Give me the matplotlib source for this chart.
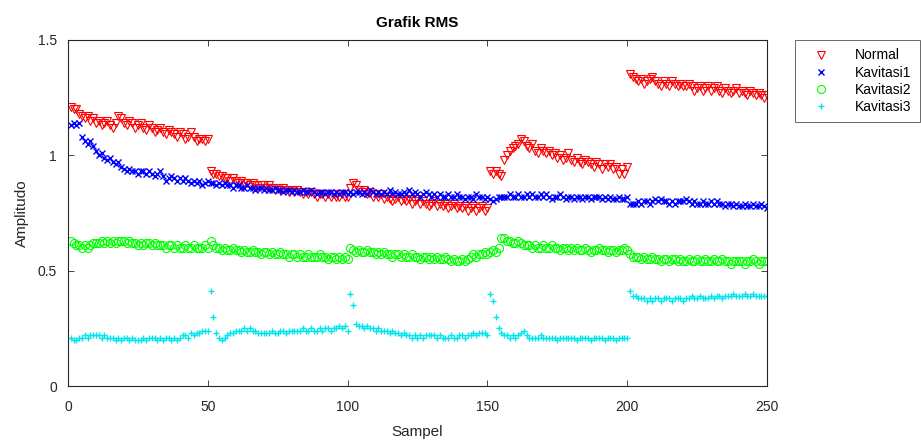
import numpy as np
import matplotlib
matplotlib.use("Agg")
import matplotlib.pyplot as plt
from matplotlib.ticker import FuncFormatter

plt.rcParams["font.family"] = ["Liberation Sans", "DejaVu Sans"]

# RMS values per sample
normal = [
    1.21, 1.20, 1.20, 1.18, 1.17, 1.16, 1.17, 1.15, 1.16, 1.14,
    1.15, 1.13, 1.14, 1.15, 1.13, 1.12, 1.14, 1.17, 1.16, 1.14,
    1.13, 1.15, 1.14, 1.12, 1.13, 1.14, 1.12, 1.11, 1.13, 1.12,
    1.10, 1.11, 1.12, 1.10, 1.09, 1.11, 1.10, 1.09, 1.08, 1.10,
    1.09, 1.07, 1.08, 1.10, 1.08, 1.06, 1.07, 1.07, 1.06, 1.07,
    0.93, 0.92, 0.92, 0.91, 0.91, 0.90, 0.90, 0.89, 0.90, 0.89,
    0.88, 0.89, 0.88, 0.88, 0.87, 0.88, 0.87, 0.86, 0.87, 0.87,
    0.86, 0.87, 0.86, 0.85, 0.86, 0.85, 0.86, 0.85, 0.84, 0.85,
    0.84, 0.85, 0.84, 0.83, 0.84, 0.83, 0.84, 0.83, 0.82, 0.83,
    0.83, 0.82, 0.83, 0.82, 0.83, 0.82, 0.82, 0.83, 0.82, 0.82,
    0.86, 0.88, 0.87, 0.85, 0.84, 0.85, 0.83, 0.84, 0.82, 0.83,
    0.82, 0.83, 0.81, 0.82, 0.81, 0.80, 0.81, 0.82, 0.80, 0.81,
    0.80, 0.81, 0.79, 0.80, 0.81, 0.79, 0.80, 0.79, 0.78, 0.79,
    0.80, 0.78, 0.79, 0.78, 0.79, 0.77, 0.78, 0.79, 0.77, 0.78,
    0.77, 0.78, 0.76, 0.77, 0.78, 0.76, 0.77, 0.78, 0.76, 0.77,
    0.93, 0.92, 0.93, 0.92, 0.91, 0.98, 1.00, 1.02, 1.03, 1.04,
    1.05, 1.07, 1.06, 1.04, 1.03, 1.05, 1.02, 1.01, 1.03, 1.02,
    1.01, 1.02, 1.00, 1.01, 0.99, 1.00, 0.98, 0.99, 1.01, 0.98,
    0.97, 0.99, 0.97, 0.96, 0.98, 0.97, 0.96, 0.95, 0.97, 0.96,
    0.94, 0.96, 0.95, 0.96, 0.94, 0.95, 0.92, 0.94, 0.92, 0.95,
    1.35, 1.34, 1.33, 1.32, 1.33, 1.31, 1.32, 1.33, 1.34, 1.32,
    1.31, 1.30, 1.32, 1.31, 1.30, 1.32, 1.31, 1.30, 1.31, 1.30,
    1.30, 1.31, 1.30, 1.28, 1.29, 1.30, 1.28, 1.29, 1.30, 1.28,
    1.29, 1.30, 1.28, 1.27, 1.29, 1.28, 1.27, 1.28, 1.29, 1.27,
    1.28, 1.27, 1.26, 1.28, 1.27, 1.26, 1.27, 1.26, 1.25, 1.26,
]

kavitasi1 = [
    1.13, 1.14, 1.13, 1.14, 1.08, 1.06, 1.05, 1.06, 1.04, 1.02,
    1.00, 1.01, 0.99, 0.98, 0.99, 0.97, 0.96, 0.97, 0.95, 0.94,
    0.93, 0.94, 0.93, 0.93, 0.92, 0.93, 0.93, 0.92, 0.93, 0.92,
    0.91, 0.92, 0.93, 0.91, 0.89, 0.90, 0.91, 0.90, 0.89, 0.90,
    0.89, 0.90, 0.89, 0.88, 0.89, 0.88, 0.89, 0.87, 0.88, 0.89,
    0.88, 0.88, 0.87, 0.88, 0.87, 0.88, 0.87, 0.87, 0.86, 0.87,
    0.87, 0.86, 0.86, 0.87, 0.86, 0.86, 0.85, 0.86, 0.86, 0.85,
    0.86, 0.85, 0.85, 0.86, 0.85, 0.85, 0.84, 0.85, 0.85, 0.84,
    0.85, 0.84, 0.84, 0.85, 0.84, 0.84, 0.85, 0.84, 0.83, 0.84,
    0.84, 0.83, 0.84, 0.84, 0.83, 0.84, 0.83, 0.84, 0.84, 0.83,
    0.84, 0.83, 0.84, 0.84, 0.83, 0.84, 0.83, 0.85, 0.84, 0.83,
    0.84, 0.83, 0.84, 0.83, 0.85, 0.83, 0.84, 0.83, 0.83, 0.84,
    0.83, 0.85, 0.83, 0.84, 0.83, 0.82, 0.83, 0.84, 0.83, 0.82,
    0.83, 0.82, 0.83, 0.82, 0.82, 0.83, 0.82, 0.82, 0.83, 0.82,
    0.82, 0.81, 0.82, 0.82, 0.81, 0.83, 0.82, 0.82, 0.81, 0.82,
    0.81, 0.80, 0.81, 0.82, 0.82, 0.82, 0.82, 0.83, 0.82, 0.82,
    0.83, 0.82, 0.82, 0.83, 0.82, 0.83, 0.82, 0.82, 0.83, 0.82,
    0.83, 0.82, 0.81, 0.82, 0.82, 0.83, 0.82, 0.81, 0.82, 0.82,
    0.81, 0.82, 0.82, 0.81, 0.82, 0.82, 0.81, 0.82, 0.82, 0.82,
    0.81, 0.82, 0.81, 0.82, 0.81, 0.81, 0.82, 0.81, 0.81, 0.82,
    0.79, 0.79, 0.79, 0.80, 0.79, 0.80, 0.80, 0.79, 0.80, 0.81,
    0.80, 0.81, 0.80, 0.80, 0.79, 0.80, 0.79, 0.80, 0.80, 0.80,
    0.81, 0.80, 0.79, 0.80, 0.79, 0.79, 0.80, 0.79, 0.79, 0.80,
    0.79, 0.80, 0.79, 0.79, 0.78, 0.79, 0.79, 0.78, 0.79, 0.78,
    0.78, 0.79, 0.78, 0.78, 0.79, 0.78, 0.78, 0.79, 0.78, 0.77,
]

kavitasi2 = [
    0.63, 0.62, 0.61, 0.61, 0.60, 0.61, 0.60, 0.61, 0.62, 0.62,
    0.62, 0.63, 0.62, 0.63, 0.62, 0.63, 0.62, 0.63, 0.63, 0.63,
    0.62, 0.63, 0.62, 0.62, 0.61, 0.62, 0.61, 0.62, 0.62, 0.61,
    0.62, 0.61, 0.61, 0.61, 0.60, 0.61, 0.61, 0.60, 0.61, 0.60,
    0.60, 0.61, 0.60, 0.60, 0.61, 0.60, 0.60, 0.60, 0.61, 0.60,
    0.63, 0.61, 0.60, 0.60, 0.59, 0.60, 0.59, 0.59, 0.60, 0.59,
    0.59, 0.58, 0.59, 0.58, 0.58, 0.59, 0.58, 0.58, 0.57, 0.58,
    0.58, 0.57, 0.58, 0.57, 0.57, 0.58, 0.57, 0.57, 0.56, 0.57,
    0.57, 0.56, 0.57, 0.56, 0.56, 0.57, 0.56, 0.56, 0.56, 0.57,
    0.56, 0.56, 0.55, 0.56, 0.56, 0.55, 0.56, 0.55, 0.56, 0.55,
    0.60, 0.59, 0.58, 0.59, 0.58, 0.58, 0.59, 0.58, 0.58, 0.57,
    0.58, 0.57, 0.58, 0.57, 0.57, 0.56, 0.57, 0.57, 0.56, 0.57,
    0.56, 0.56, 0.57, 0.56, 0.56, 0.55, 0.56, 0.56, 0.55, 0.56,
    0.55, 0.56, 0.55, 0.55, 0.56, 0.55, 0.54, 0.55, 0.54, 0.54,
    0.55, 0.54, 0.55, 0.56, 0.57, 0.56, 0.57, 0.57, 0.58, 0.57,
    0.58, 0.59, 0.58, 0.60, 0.64, 0.64, 0.63, 0.63, 0.62, 0.62,
    0.63, 0.62, 0.61, 0.61, 0.61, 0.60, 0.61, 0.60, 0.60, 0.61,
    0.60, 0.60, 0.61, 0.60, 0.60, 0.59, 0.60, 0.60, 0.59, 0.60,
    0.59, 0.60, 0.59, 0.59, 0.60, 0.59, 0.58, 0.59, 0.59, 0.60,
    0.59, 0.59, 0.58, 0.59, 0.59, 0.58, 0.59, 0.59, 0.60, 0.59,
    0.57, 0.56, 0.56, 0.56, 0.55, 0.56, 0.55, 0.55, 0.56, 0.55,
    0.55, 0.54, 0.55, 0.55, 0.54, 0.55, 0.55, 0.54, 0.55, 0.54,
    0.54, 0.55, 0.54, 0.54, 0.55, 0.54, 0.54, 0.55, 0.54, 0.54,
    0.55, 0.54, 0.54, 0.55, 0.54, 0.54, 0.53, 0.54, 0.54, 0.54,
    0.54, 0.53, 0.54, 0.54, 0.55, 0.54, 0.53, 0.54, 0.54, 0.54,
]

kavitasi3 = [
    0.21, 0.20, 0.20, 0.21, 0.21, 0.22, 0.21, 0.22, 0.22, 0.22,
    0.22, 0.21, 0.22, 0.21, 0.21, 0.21, 0.20, 0.21, 0.20, 0.21,
    0.21, 0.20, 0.21, 0.20, 0.20, 0.20, 0.21, 0.20, 0.21, 0.21,
    0.21, 0.20, 0.21, 0.20, 0.21, 0.21, 0.20, 0.21, 0.20, 0.21,
    0.22, 0.22, 0.21, 0.23, 0.22, 0.23, 0.23, 0.24, 0.24, 0.24,
    0.41, 0.30, 0.23, 0.21, 0.20, 0.21, 0.22, 0.23, 0.23, 0.24,
    0.24, 0.24, 0.25, 0.24, 0.25, 0.24, 0.24, 0.23, 0.23, 0.23,
    0.23, 0.23, 0.24, 0.23, 0.23, 0.24, 0.24, 0.23, 0.24, 0.24,
    0.24, 0.24, 0.24, 0.25, 0.24, 0.24, 0.25, 0.24, 0.24, 0.25,
    0.24, 0.25, 0.25, 0.24, 0.25, 0.25, 0.26, 0.25, 0.26, 0.24,
    0.40, 0.35, 0.27, 0.26, 0.26, 0.25, 0.26, 0.25, 0.25, 0.24,
    0.25, 0.24, 0.24, 0.24, 0.23, 0.24, 0.23, 0.23, 0.22, 0.23,
    0.22, 0.22, 0.21, 0.22, 0.21, 0.22, 0.21, 0.22, 0.22, 0.22,
    0.22, 0.21, 0.22, 0.21, 0.21, 0.21, 0.22, 0.21, 0.21, 0.22,
    0.22, 0.21, 0.22, 0.22, 0.23, 0.22, 0.23, 0.23, 0.23, 0.22,
    0.40, 0.37, 0.30, 0.25, 0.23, 0.22, 0.22, 0.21, 0.22, 0.21,
    0.22, 0.23, 0.24, 0.22, 0.21, 0.21, 0.21, 0.21, 0.22, 0.21,
    0.21, 0.21, 0.21, 0.21, 0.20, 0.21, 0.21, 0.21, 0.21, 0.21,
    0.21, 0.20, 0.21, 0.21, 0.21, 0.21, 0.20, 0.21, 0.21, 0.21,
    0.21, 0.20, 0.21, 0.21, 0.21, 0.20, 0.21, 0.21, 0.21, 0.21,
    0.41, 0.39, 0.39, 0.38, 0.38, 0.38, 0.37, 0.38, 0.37, 0.38,
    0.38, 0.37, 0.38, 0.38, 0.38, 0.37, 0.38, 0.38, 0.38, 0.37,
    0.38, 0.38, 0.39, 0.38, 0.38, 0.39, 0.38, 0.38, 0.38, 0.39,
    0.38, 0.39, 0.39, 0.38, 0.39, 0.39, 0.39, 0.40, 0.39, 0.39,
    0.39, 0.40, 0.39, 0.39, 0.40, 0.39, 0.39, 0.39, 0.39, 0.39,
]

sampel = np.arange(1, len(normal) + 1)

series = [
    (normal, "Normal", "v", "#ff0000"),
    (kavitasi1, "Kavitasi1", "x", "#0000ff"),
    (kavitasi2, "Kavitasi2", "o", "#00ff00"),
    (kavitasi3, "Kavitasi3", "+", "#00e5ee"),
]

fig = plt.figure(figsize=(9.21, 4.41), dpi=100)
ax = fig.add_axes([0.0738, 0.1247, 0.7590, 0.7850])

for vals, lab, mk, col in series:
    if mk in ("v", "o"):
        ax.plot(sampel, vals, linestyle="none", marker=mk, markersize=5.8,
                markerfacecolor="none", markeredgecolor=col,
                markeredgewidth=0.8, label=lab)
    else:
        ax.plot(sampel, vals, linestyle="none", marker=mk, markersize=5,
                markeredgecolor=col, markerfacecolor=col,
                markeredgewidth=1.0, label=lab)

ax.set_xlim(0, 250)
ax.set_ylim(0, 1.5)
ax.set_xticks([0, 50, 100, 150, 200, 250])
ax.set_yticks([0, 0.5, 1, 1.5])
ax.yaxis.set_major_formatter(FuncFormatter(lambda v, p: f"{v:g}"))

ax.tick_params(direction="in", length=4, width=0.6, colors="#262626",
               labelsize=10, top=True, right=True)
ax.tick_params(axis="x", pad=10)
ax.tick_params(axis="y", pad=8)
for sp in ax.spines.values():
    sp.set_linewidth(0.8)
    sp.set_color("#262626")

ax.set_title("Grafik RMS", fontsize=11, fontweight="bold", color="#000000",
             pad=9)
ax.set_xlabel("Sampel", fontsize=11, color="#262626", labelpad=8)
ax.set_ylabel("Amplitudo", fontsize=11, color="#262626", labelpad=6)

leg = fig.legend(loc="upper left", bbox_to_anchor=(0.863, 0.909),
                 fontsize=10, frameon=True, fancybox=False,
                 edgecolor="#262626", borderpad=0.6, labelspacing=0.22,
                 handletextpad=1.15, handlelength=2.55, borderaxespad=0)
leg.get_frame().set_linewidth(0.6)

fig.savefig("out.png", dpi=100)
